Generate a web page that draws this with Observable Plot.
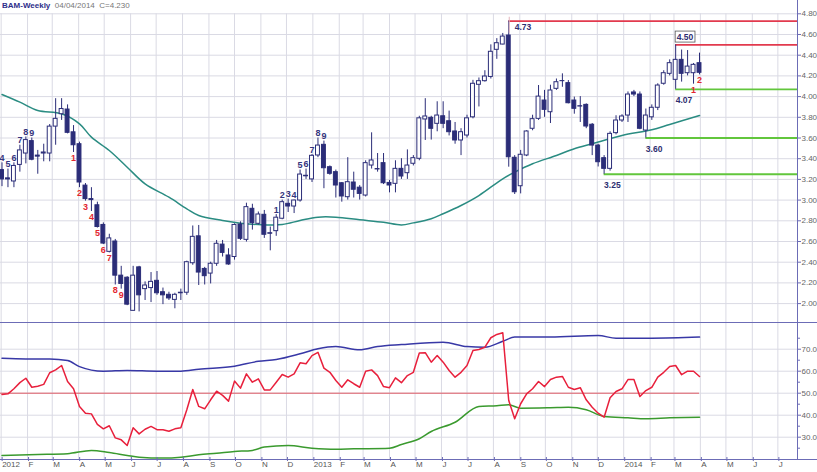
<!DOCTYPE html>
<html><head><meta charset="utf-8">
<script src="https://cdn.jsdelivr.net/npm/d3@7"></script>
<script src="https://cdn.jsdelivr.net/npm/@observablehq/plot@0.6"></script>
<style>
html,body{margin:0;padding:0;background:#fff;}
#wrap{position:relative;width:817px;height:472px;overflow:hidden;font-family:"Liberation Sans",Arial,sans-serif;}
#wrap svg{display:block;}
#title{position:absolute;left:2px;top:1px;font-size:8px;line-height:10px;white-space:pre;}
#title b{color:#2e2e8a;}
#title span{color:#777;}
</style></head>
<body><div id="wrap"><div id="chart"></div><div id="title"></div></div>
<script>
// ---- data (weekly, first week starting Monday 2012-01-02) ----
const ticker = "BAM-Weekly";
const asOf = "04/04/2014";
const firstWeek = "2012-01-02";
const open = [3.29,3.21,3.18,3.34,3.45,3.57,3.43,3.45,3.45,3.71,
3.83,3.875,3.655,3.54,3.14,3.01,2.95,2.76,2.50,2.60,
2.27,2.25,1.93,2.35,2.14,2.15,2.22,2.11,2.085,2.036,
2.10,2.105,2.39,2.65,2.335,2.29,2.385,2.57,2.465,2.45,
2.764,2.616,2.916,2.771,2.858,2.68,2.70,2.82,2.964,2.938,
2.996,3.235,3.20,3.431,3.534,3.318,3.27,3.163,3.028,3.17,
3.12,3.044,3.334,3.30,3.357,3.166,3.157,3.302,3.26,3.351,
3.399,3.779,3.795,3.737,3.81,3.762,3.663,3.576,3.624,3.80,
4.114,4.149,4.19,4.452,4.503,4.59,3.409,3.134,3.431,3.689,
3.785,3.962,3.849,4.075,4.15,4.13,3.962,3.907,3.92,3.728,
3.527,3.405,3.302,3.647,3.769,3.817,4.04,4.02,3.672,3.80,
3.892,4.124,4.22,4.162,4.355,4.226,4.226,4.323];
const high = [3.36,3.30,3.36,3.53,3.61,3.60,3.48,3.54,3.73,3.98,
3.98,3.92,3.72,3.56,3.16,3.12,2.98,2.78,2.67,2.62,
2.36,2.26,2.36,2.36,2.21,2.30,2.31,2.15,2.11,2.10,
2.14,2.41,2.75,2.755,2.35,2.40,2.61,2.61,2.53,2.77,
2.79,2.97,2.96,2.885,2.90,2.74,2.86,3.00,3.01,3.00,
3.29,3.30,3.44,3.60,3.57,3.33,3.29,3.17,3.41,3.27,
3.14,3.38,3.65,3.45,3.45,3.19,3.38,3.40,3.485,3.43,
3.81,3.98,3.81,3.95,3.95,3.86,3.75,3.69,3.82,4.157,
4.18,4.25,4.50,4.56,4.61,4.73,3.43,3.48,3.67,3.82,
4.107,4.06,4.11,4.17,4.22,4.155,3.995,4.00,3.93,3.74,
3.54,3.43,3.66,3.815,3.825,4.045,4.06,4.045,3.88,3.92,
4.124,4.25,4.355,4.50,4.45,4.445,4.32,4.42];
const low = [3.13,3.12,3.12,3.27,3.35,3.38,3.25,3.37,3.37,3.53,
3.77,3.64,3.46,3.12,2.99,2.89,2.73,2.57,2.49,2.18,
2.14,1.98,1.93,1.92,2.03,2.01,2.08,1.99,2.03,1.95,
2.03,2.08,2.37,2.175,2.18,2.19,2.36,2.45,2.37,2.42,
2.61,2.595,2.71,2.76,2.63,2.51,2.65,2.81,2.88,2.87,
2.98,3.20,3.17,3.41,3.11,3.24,3.02,2.98,3.00,3.02,
3.00,3.03,3.30,3.27,3.15,3.07,3.07,3.20,3.20,3.33,
3.38,3.576,3.58,3.66,3.69,3.62,3.54,3.43,3.60,3.785,
3.90,4.14,4.17,4.36,4.50,3.318,3.054,3.06,3.42,3.67,
3.77,3.80,3.74,4.06,4.09,3.93,3.83,3.75,3.69,3.43,
3.32,3.25,3.28,3.63,3.75,3.75,4.00,3.68,3.60,3.77,
3.865,4.11,4.20,4.07,4.14,4.20,4.12,4.21];
const close = [3.20,3.20,3.33,3.48,3.58,3.39,3.42,3.46,3.71,3.785,
3.88,3.65,3.53,3.17,3.01,3.00,2.74,2.58,2.63,2.27,
2.19,1.99,2.27,2.08,2.175,2.21,2.10,2.08,2.05,2.085,
2.105,2.40,2.645,2.30,2.265,2.385,2.578,2.49,2.378,2.76,
2.626,2.932,2.777,2.861,2.665,2.675,2.83,2.98,2.938,2.996,
3.247,3.23,3.428,3.527,3.308,3.254,3.141,3.035,3.173,3.10,
3.06,3.357,3.383,3.296,3.163,3.141,3.302,3.228,3.334,3.405,
3.79,3.808,3.689,3.817,3.737,3.656,3.576,3.656,3.79,4.124,
4.149,4.194,4.433,4.516,4.58,3.414,3.076,3.438,3.663,3.782,
4.0,3.872,4.059,4.139,4.149,3.936,3.882,3.904,3.711,3.527,
3.366,3.302,3.64,3.769,3.808,4.02,4.02,3.689,3.817,3.892,
4.107,4.226,4.323,4.355,4.22,4.29,4.307,4.23];

// moving average (week index, value)
const maWeeks  = [0,3,6,10,13,15,18,21,24,28,31,33,37,40,43,47,50,53,56,60,64,67,69,72,74,77,80,84,86,89,93,96,99,104,109,112,117];
const maValues = [4.02,3.946,3.866,3.834,3.737,3.608,3.479,3.318,3.157,3.028,2.916,2.851,2.803,2.777,2.764,2.764,2.803,2.835,2.835,2.81,2.786,2.76,2.78,2.82,2.868,2.948,3.044,3.206,3.27,3.351,3.431,3.496,3.544,3.624,3.679,3.731,3.817];

// oscillator (one value per week)
const osc = [49.4,49.7,52.0,54.8,56.8,52.7,53.2,54.0,59.3,60.6,
62.6,55.3,52.0,44.0,40.9,40.6,35.8,33.8,35.2,29.7,
28.8,26.2,34.3,31.5,33.6,34.9,33.4,33.4,32.7,33.8,
34.3,42.5,51.7,44.0,42.9,47.0,50.9,49.0,46.4,55.5,
52.3,58.8,55.0,56.5,51.5,51.5,55.0,58.5,57.3,58.8,
63.8,63.4,67.1,68.6,61.4,59.5,55.8,52.7,56.1,54.3,
52.7,60.0,60.6,58.0,53.0,52.5,57.0,54.8,58.0,59.5,
68.3,68.4,64.1,67.1,64.1,60.3,57.3,59.5,62.6,69.4,
69.9,70.9,75.2,76.7,77.5,46.7,38.4,45.2,49.7,52.0,
55.3,53.0,56.2,57.3,57.6,52.7,51.7,52.5,47.0,43.6,
40.9,39.1,47.9,50.8,52.0,56.2,56.2,48.5,51.2,52.7,
57.3,59.5,62.1,62.6,58.4,60.0,60.0,57.6];
const upperWeeks  = [0,4,8,11,13,17,21,26,30,33,39,43,46,50,53,56,60,63,67,74,78,81,84,86,92,100,103,109,117];
const upperValues = [65.9,65.6,65.6,64.9,62.1,60.0,60.3,60.0,60.0,60.9,62.3,64.5,65.3,67.9,70.2,71.2,69.7,71.2,72.1,73.2,71.2,70.9,73.6,75.5,75.5,76.2,75.0,75.0,75.5];
const lowerWeeks  = [0,6,11,15,18,21,23,27,30,33,36,39,42,44,48,52,56,59,65,67,70,72,76,80,83,85,87,92,95,98,101,105,108,112,117];
const lowerValues = [21.7,22.1,22.5,24.0,23.0,21.7,20.9,20.5,20.9,22.0,22.7,23.5,24.0,25.5,26.2,25.0,24.5,24.7,25.0,26.7,29.3,32.6,36.8,44.0,44.3,44.7,43.2,43.4,43.6,42.5,39.4,38.8,38.4,38.8,39.1];
const oscMid = 50;

// count annotations
const upCountWeeks  = [0,1,2,3,4,5,46,47,48,49,50,51,52,53,54];
const upCountLabels = ["4","5","6","7","8","9","1","2","3","4","5","6","7","8","9"];
const downCountWeeks  = [12,13,14,15,16,17,18,19,20,116,117];
const downCountLabels = ["1","2","3","4","5","6","7","8","9","1","2"];

// horizontal levels
const resistValues = [4.73, 4.50];
const resistWeeks  = [85, 113];
const supportValues = [4.07, 3.60, 3.25];
const supportWeeks  = [113, 108, 101];

// ticks
const priceTicks = [2.0,2.2,2.4,2.6,2.8,3.0,3.2,3.4,3.6,3.8,4.0,4.2,4.4,4.6,4.8];
const oscTicks = [30,40,50,60,70];
const oscMinorTicks = [25,35,45,55,65,75];
const monthLetters = ["J","F","M","A","M","J","J","A","S","O","N","D"];

// ---- build ----
const DAY = 864e5;
const dates = open.map((_, i) => d3.utcMonday.offset(new Date(firstWeek), i));
const bars = dates.map((date, i) => ({date, open: open[i], high: high[i], low: low[i], close: close[i]}));
const xStart = new Date(+dates[0] - 1.761 * DAY);
const xEnd = new Date(+dates[0] + 934.06 * DAY);
const months = d3.utcMonth.range(new Date("2012-01-01"), new Date("2014-07-02"));
const monthFmt = d => d.getUTCMonth() === 0 ? String(d.getUTCFullYear()) : monthLetters[d.getUTCMonth()];
const yDomain1 = [1.8174, 4.9285];

const navy = "#2b2d78", grid = "#dadae4", frame = "#6c6cb6";
const redLvl = "#e23a4e", greenLvl = "#62c63c";
const font = "'Liberation Sans', Arial, sans-serif";

const ma = maWeeks.map((w, i) => ({date: dates[w], v: maValues[i]}));
const upCounts = upCountWeeks.map((w, i) => ({date: dates[w], y: high[w], t: upCountLabels[i]}));
const downCounts = downCountWeeks.map((w, i) => ({date: dates[w], y: low[w], t: downCountLabels[i]}));
const resist = resistValues.map((v, i) => ({date: dates[resistWeeks[i]], v}));
const support = supportValues.map((v, i) => ({date: dates[supportWeeks[i]], v}));

const p1 = Plot.plot({
  width: 817, height: 322,
  marginLeft: 0, marginRight: 20, marginTop: 0, marginBottom: 0,
  style: {fontFamily: font, fontSize: "8px", background: "transparent", overflow: "visible"},
  x: {type: "utc", domain: [xStart, xEnd], axis: null},
  y: {domain: yDomain1, axis: null},
  marks: [
    Plot.ruleY(priceTicks, {stroke: grid}),
    Plot.ruleX(months, {y1: yDomain1[0], y2: priceTicks[priceTicks.length - 1], stroke: grid}),
    Plot.line(ma, {x: "date", y: "v", stroke: "#2a8c82", strokeWidth: 1.5, curve: "catmull-rom"}),
    Plot.ruleY(resist, {y: "v", x1: "date", x2: () => xEnd, stroke: redLvl, strokeWidth: 1.8}),
    Plot.ruleY(support, {y: "v", x1: "date", x2: () => xEnd, stroke: greenLvl, strokeWidth: 1.8}),
    Plot.ruleX(bars, {x: "date", y1: "low", y2: "high", stroke: navy, strokeWidth: 1}),
    Plot.rect(bars, {
      x1: d => new Date(+d.date - 2.3 * DAY), x2: d => new Date(+d.date + 2.3 * DAY),
      y1: "open", y2: "close",
      fill: d => d.close < d.open ? navy : "#ffffff", stroke: navy, strokeWidth: 1
    }),
    Plot.text(upCounts, {x: "date", y: "y", text: "t", lineAnchor: "bottom", dy: -2, fill: "#35357e", fontWeight: "bold", fontSize: 9}),
    Plot.text(downCounts, {x: "date", y: "y", text: "t", lineAnchor: "top", dy: 2, fill: "#e3262f", fontWeight: "bold", fontSize: 9}),
    Plot.text(resist.slice(0, 1), {x: "date", y: "v", text: d => d.v.toFixed(2), textAnchor: "start", dx: 6, dy: 6, fill: "#2e2e70", fontWeight: "bold", fontSize: 8.5}),
    Plot.text(resist.slice(1), {x: "date", y: "v", text: d => d.v.toFixed(2), textAnchor: "start", dx: 1, dy: -8, fill: "#2e2e70", fontWeight: "bold", fontSize: 8.5}),
    Plot.text(support, {x: "date", y: "v", text: d => d.v.toFixed(2), textAnchor: "start", dx: 0, dy: 11, fill: "#2e2e70", fontWeight: "bold", fontSize: 8.5}),
    Plot.axisY({anchor: "right", ticks: priceTicks, tickFormat: d3.format(".2f"), tickSize: 3, tickPadding: 1, stroke: frame, fill: "#666", label: null}),
    Plot.ruleX([xEnd], {stroke: frame})
  ]
});

const p2 = Plot.plot({
  width: 817, height: 150,
  marginLeft: 0, marginRight: 20, marginTop: 0, marginBottom: 13,
  style: {fontFamily: font, fontSize: "8px", background: "transparent", overflow: "visible"},
  x: {type: "utc", domain: [xStart, xEnd], axis: null},
  y: {domain: [19.86, 82.14], axis: null},
  marks: [
    Plot.ruleY(oscTicks, {stroke: grid}),
    Plot.ruleX(months, {stroke: grid}),
    Plot.ruleY([oscMid], {x1: () => xStart, x2: () => dates[dates.length - 1], stroke: "#e05a64", strokeWidth: 1}),
    Plot.line(upperWeeks.map((w, i) => ({date: dates[w], v: upperValues[i]})), {x: "date", y: "v", stroke: "#3838a6", strokeWidth: 1.5, curve: "monotone-x"}),
    Plot.line(lowerWeeks.map((w, i) => ({date: dates[w], v: lowerValues[i]})), {x: "date", y: "v", stroke: "#3a9a2e", strokeWidth: 1.5, curve: "monotone-x"}),
    Plot.line(osc.map((v, i) => ({date: dates[i], v})), {x: "date", y: "v", stroke: "#e8203c", strokeWidth: 1.5}),
    Plot.axisY({anchor: "right", ticks: oscTicks, tickFormat: d3.format(".1f"), tickSize: 3, tickPadding: 1, stroke: frame, fill: "#666", label: null}),
    Plot.axisY({anchor: "right", ticks: oscMinorTicks, tickFormat: () => "", tickSize: 2, stroke: frame, label: null}),
    Plot.axisX({anchor: "bottom", ticks: months, tickFormat: monthFmt, tickSize: 4, tickPadding: 0, dy: -2, dx: 1, textAnchor: "start", stroke: frame, fill: "#555", label: null}),
    Plot.ruleX([xEnd], {stroke: frame})
  ]
});

const chart = document.getElementById("chart");
chart.appendChild(p1);
chart.appendChild(p2);

// frame lines spanning the full width
d3.select(p2).append("line").attr("x1", 0).attr("x2", 817).attr("y1", 0.5).attr("y2", 0.5).attr("stroke", frame);
d3.select(p2).append("line").attr("x1", 0).attr("x2", 817).attr("y1", 137.5).attr("y2", 137.5).attr("stroke", frame);

// box around the 4.50 label, left edge next to the 4.73 label
d3.select(p1).selectAll("g[aria-label='text'] text").each(function() {
  const txt = this.textContent;
  const t = this.getAttribute("transform");
  const b = this.getBBox();
  if (txt === resistValues[1].toFixed(2)) {
    d3.select(this.parentNode).insert("rect", () => this)
      .attr("x", b.x - 1.5).attr("y", b.y - 0.5).attr("width", b.width + 3).attr("height", b.height + 1)
      .attr("transform", t).attr("fill", "white").attr("stroke", "#555").attr("stroke-width", 0.8);
  } else if (txt === resistValues[0].toFixed(2)) {
    d3.select(this.parentNode).insert("line", () => this)
      .attr("x1", b.x - 5.5).attr("x2", b.x - 5.5).attr("y1", b.y - 5).attr("y2", b.y + b.height + 1)
      .attr("transform", t).attr("stroke", "#e2b4bc").attr("stroke-width", 1);
  }
});

document.getElementById("title").innerHTML =
  `<b>${ticker}</b>  <span>${asOf}  C=${close[close.length - 1].toFixed(3)}</span>`;
</script>
</body></html>
